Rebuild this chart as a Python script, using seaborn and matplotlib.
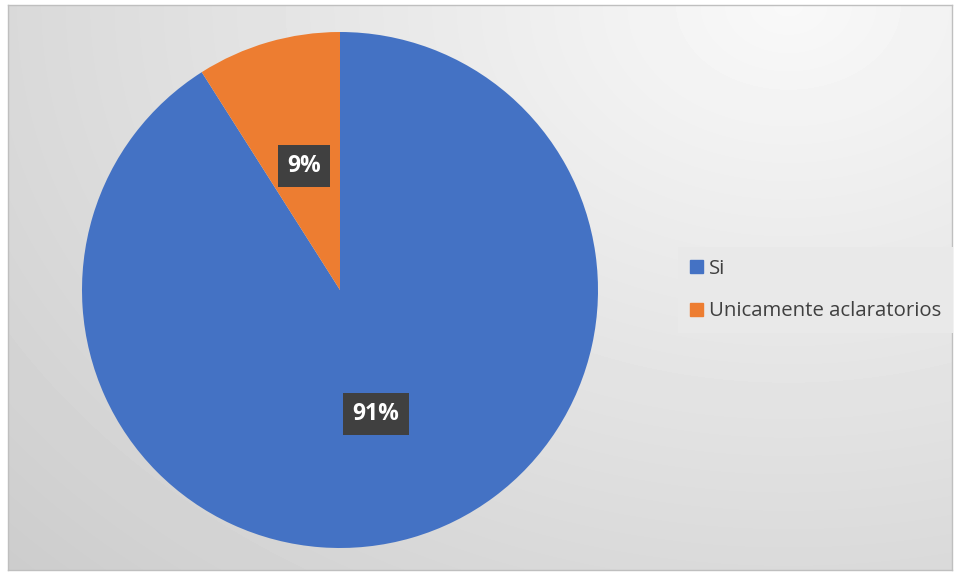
import numpy as np
import matplotlib.pyplot as plt
import seaborn as sns
from matplotlib.patches import Patch

# data
labels = ["Si", "Unicamente aclaratorios"]
values = [91, 9]
colors = ["#4472C4", "#ED7D31"]

sns.set_style("white")
plt.rcParams['font.family'] = ['Open Sans', 'DejaVu Sans']

W, H = 959, 575
fig = plt.figure(figsize=(W / 100, H / 100), dpi=100)

# background gradient (lighter towards upper right)
bg = fig.add_axes([8 / W, 5 / H, 944 / W, 565 / H])
yy, xx = np.mgrid[0:565, 0:944]
d = np.sqrt(((xx - 780) / 1000) ** 2 + ((yy - 0) / 750) ** 2)
shade = np.clip(0.975 - 0.16 * d, 0.80, 0.975)
bg.imshow(shade, cmap="gray", vmin=0, vmax=1, aspect="auto", interpolation="bilinear")
bg.set_xticks([])
bg.set_yticks([])
for s in bg.spines.values():
    s.set_color("#bfbfbf")
    s.set_linewidth(1)

# pie
cx, cy, r = 340, 290, 258
ax = fig.add_axes([(cx - r) / W, (H - cy - r) / H, 2 * r / W, 2 * r / H])
wedges, texts, autotexts = ax.pie(values, colors=colors, startangle=90, counterclock=False,
                                  autopct="%1.0f%%", pctdistance=0.5,
                                  wedgeprops=dict(linewidth=0))
for t in autotexts:
    t.set_color("white")
    t.set_fontsize(16.5)
    t.set_fontweight("bold")
    t.set_bbox(dict(boxstyle="square,pad=0.4", fc="#404040", ec="none"))
ax.set_xlim(-1, 1)
ax.set_ylim(-1, 1)
ax.set_aspect("equal")
ax.axis("off")

# legend
handles = [Patch(color=c, label=l) for c, l in zip(colors, labels)]
leg = fig.legend(handles=handles, loc="center left", bbox_to_anchor=(668 / W, 1 - 290 / H),
                 frameon=True, fontsize=14.7, handlelength=0.6, handleheight=0.6,
                 handletextpad=0.3, labelspacing=1.1, borderpad=0.6, fancybox=False,
                 labelcolor="#404040")
leg.get_frame().set_facecolor("#e9e9e9")
leg.get_frame().set_edgecolor("none")
leg.get_frame().set_alpha(1)

fig.savefig("out.png", dpi=100, facecolor="white")
